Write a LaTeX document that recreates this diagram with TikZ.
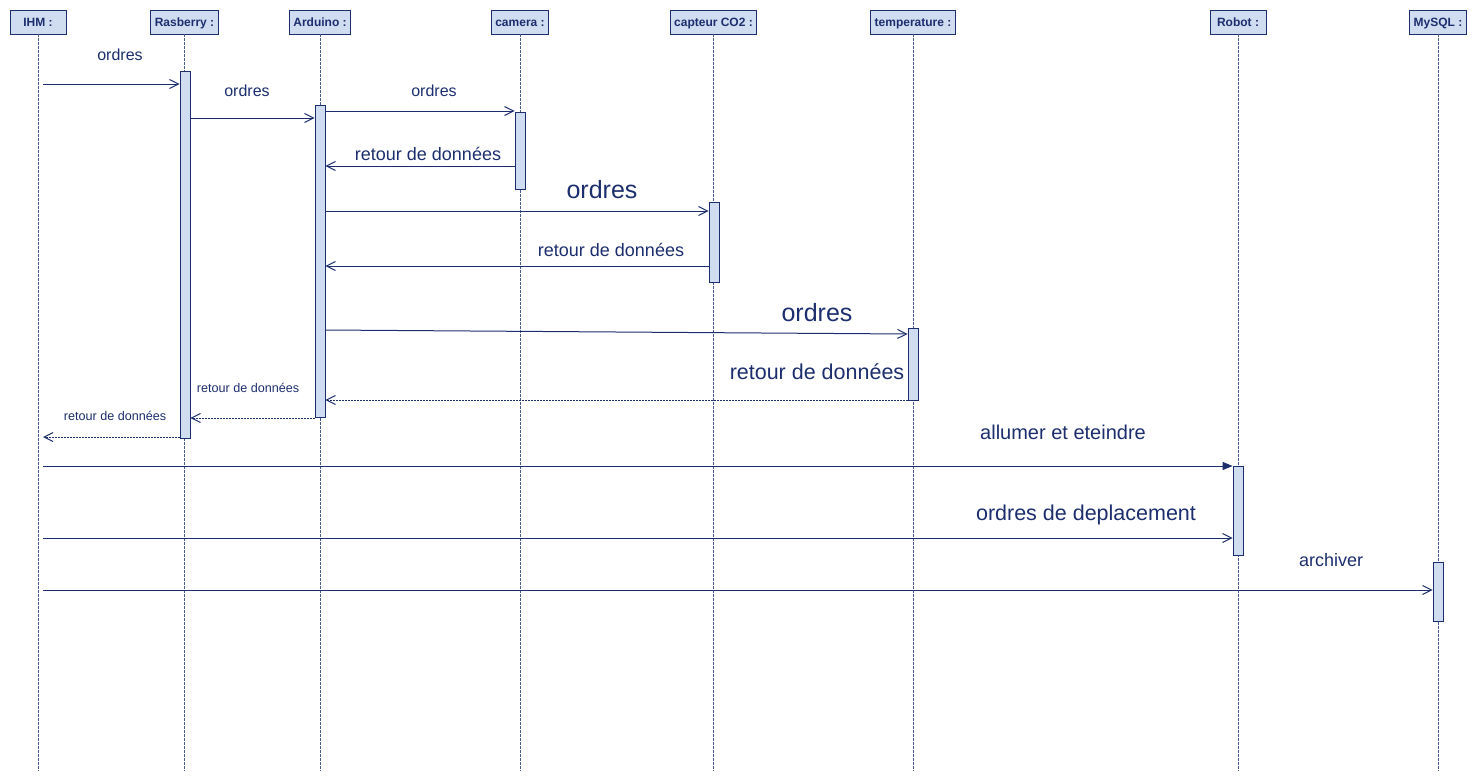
\documentclass[tikz,border=0pt]{standalone}
\usepackage{fontspec}
\setmainfont{Liberation Sans}
\usetikzlibrary{arrows.meta}
\definecolor{umlline}{HTML}{1C2E6E}
\definecolor{umlfill}{HTML}{D0DCF0}
\newcommand{\fsz}[1]{\fontsize{#1}{#1}\selectfont}
\begin{document}
\begin{tikzpicture}[x=1pt,y=-1pt,
    head/.style={draw=umlline,fill=umlfill,line width=0.8pt,text=umlline,
        font=\bfseries\fsz{12},minimum height=24,minimum width=56,inner xsep=4,
        text height=8.6pt,text depth=0pt},
    life/.style={draw=umlline!80,line width=0.6pt,dash pattern=on 2.5pt off 1.5pt},
    bar/.style={draw=umlline,fill=umlfill,line width=0.8pt,minimum width=10,
        inner sep=0,anchor=north},
    msg/.style={draw=umlline,line width=1pt,-{Straight Barb[length=9pt,width=9pt]}},
    reply/.style={msg,dash pattern=on 2pt off 1pt},
    call/.style={draw=umlline,line width=1pt,-{Triangle[length=10pt,width=8pt]}},
    lbl/.style={anchor=base,text=umlline,inner sep=0}]
    \useasboundingbox (0,0) rectangle (1477,782);

    \node[head] (hIHM) at (38,22) {IHM :};
    \node[head] (hRas) at (184.5,22) {Rasberry :};
    \node[head] (hArd) at (320,22) {Arduino :};
    \node[head] (hCam) at (520,22) {camera :};
    \node[head] (hCo) at (713.5,22) {capteur CO2 :};
    \node[head] (hTemp) at (913,22) {temperature :};
    \node[head] (hRob) at (1238,22) {Robot :};
    \node[head] (hSql) at (1438,22) {MySQL :};

    \coordinate (bot) at (0,771);
    \foreach \h in {hIHM,hRas,hArd,hCam,hCo,hTemp,hRob,hSql}
        \draw[life] (\h.south) -- (\h |- bot);

    \node[bar,minimum height=367] (bRas) at (185,71) {};
    \node[bar,minimum height=312] (bArd) at (320,105) {};
    \node[bar,minimum height=77] (bCam) at (520,112) {};
    \node[bar,minimum height=80] (bCo) at (714,202) {};
    \node[bar,minimum height=72] (bTemp) at (913,328) {};
    \node[bar,minimum height=89] (bRob) at (1238,466) {};
    \node[bar,minimum height=59] (bSql) at (1438,562) {};

    \coordinate (i1) at (43,84);
    \coordinate (y2) at (0,118);
    \coordinate (y3) at (0,111);
    \coordinate (y4) at (0,166);
    \coordinate (y5) at (0,211);
    \coordinate (y6) at (0,266);
    \coordinate (y7) at (0,330);
    \coordinate (y7b) at (0,334);
    \coordinate (y8) at (0,400);
    \coordinate (y9) at (0,418);
    \coordinate (i10) at (43,437);
    \coordinate (i11) at (43,466);
    \coordinate (i12) at (43,538);
    \coordinate (i13) at (43,590);

    \draw[msg] (i1) -- (bRas.west |- i1);
    \draw[msg] (bRas.east |- y2) -- (bArd.west |- y2);
    \draw[msg] (bArd.east |- y3) -- (bCam.west |- y3);
    \draw[msg] (bCam.west |- y4) -- (bArd.east |- y4);
    \draw[msg] (bArd.east |- y5) -- (bCo.west |- y5);
    \draw[msg] (bCo.west |- y6) -- (bArd.east |- y6);
    \draw[msg] (bArd.east |- y7) -- (bTemp.west |- y7b);
    \draw[reply] (bTemp.west |- y8) -- (bArd.east |- y8);
    \draw[reply] (bArd.west |- y9) -- (bRas.east |- y9);
    \draw[reply] (bRas.west |- i10) -- (i10);
    \draw[call] (i11) -- (bRob.west |- i11);
    \draw[msg] (i12) -- (bRob.west |- i12);
    \draw[msg] (i13) -- (bSql.west |- i13);

    \node[lbl,font=\fsz{16}] (l1) at (120,60) {ordres};
    \node[lbl,font=\fsz{16}] (l2) at (247,96) {ordres};
    \node[lbl,font=\fsz{16}] (l3) at (434,96) {ordres};
    \node[lbl,font=\fsz{18}] (l4) at (428,160.5) {retour de données};
    \node[lbl,font=\fsz{25}] (l5) at (602,198) {ordres};
    \node[lbl,font=\fsz{18}] (l6) at (611,256) {retour de données};
    \node[lbl,font=\fsz{25}] (l7) at (817,321) {ordres};
    \node[lbl,font=\fsz{21.5}] (l8) at (817,379) {retour de données};
    \node[lbl,font=\fsz{12.6}] (l9) at (248,392) {retour de données};
    \node[lbl,font=\fsz{12.6}] (l10) at (115,420) {retour de données};
    \node[lbl,font=\fsz{20}] (l11) at (1063,439) {allumer et eteindre};
    \node[lbl,font=\fsz{21.5}] (l12) at (1086,520) {ordres de deplacement};
    \node[lbl,font=\fsz{18}] (l13) at (1331,566) {archiver};
\end{tikzpicture}
\end{document}
